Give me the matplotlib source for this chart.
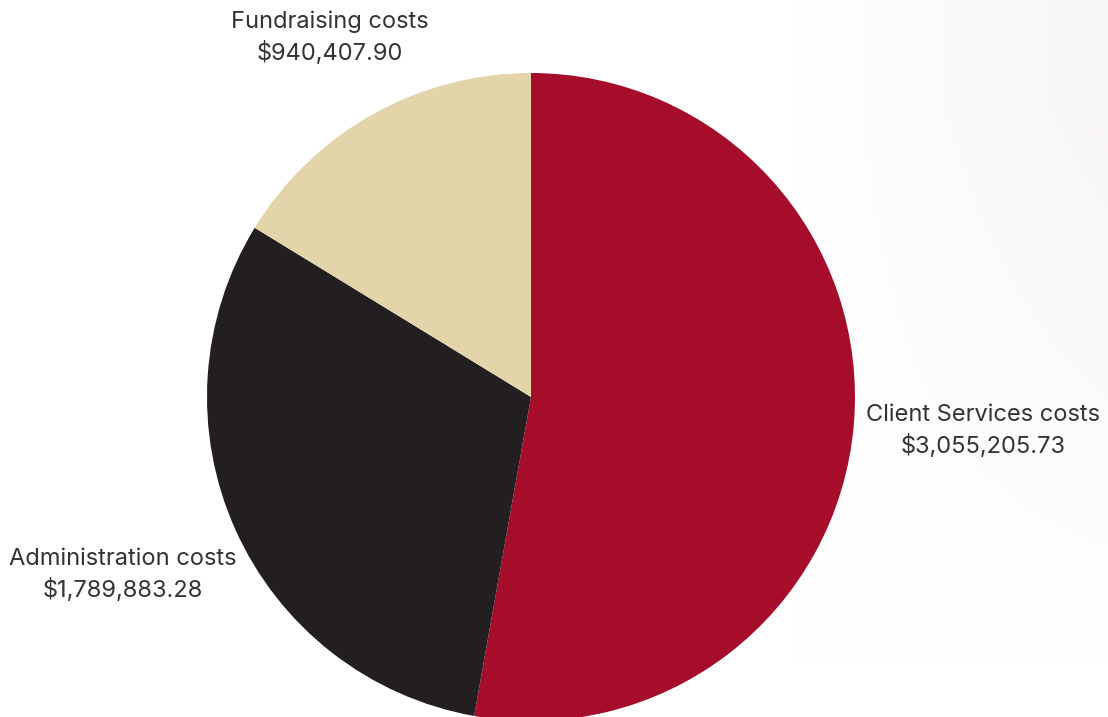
import numpy as np
import matplotlib.pyplot as plt

# data
labels = ["Client Services costs", "Administration costs", "Fundraising costs"]
values = [3055205.73, 1789883.28, 940407.90]
colors = ["#A50D2B", "#231F20", "#E3D4A9"]

W, H = 1108, 717
fig = plt.figure(figsize=(W / 100, H / 100), dpi=100)

# faint background shading on the right side
bg = fig.add_axes([0, 0, 1, 1], zorder=0)
xs = np.linspace(0, 1, 400)
ys = np.linspace(0, 1, 300)
X, Y = np.meshgrid(xs, ys)
shade = np.clip((X - 0.72) / 0.28, 0, 1) * np.clip(Y * 1.3 - 0.1, 0, 1)
img = np.ones((300, 400, 3))
tint = np.array([0.975, 0.962, 0.962])
img = img * (1 - shade[..., None]) + tint * shade[..., None]
bg.imshow(img, extent=[0, 1, 0, 1], origin="lower", aspect="auto")
bg.axis("off")

# pie axes, centre (531, 397) px, radius 324 px
cx, cy, r = 531, 397, 324
ax = fig.add_axes([(cx - r) / W, (H - cy - r) / H, 2 * r / W, 2 * r / H], zorder=1)
ax.pie(values, colors=colors, startangle=90, counterclock=False, radius=1,
       wedgeprops=dict(linewidth=0))
ax.set_xlim(-1, 1)
ax.set_ylim(-1, 1)
ax.set_aspect("equal")
ax.axis("off")

plt.rcParams['font.family'] = ['Inter', 'DejaVu Sans']
label_pos = {
    "Client Services costs": (983, 431),
    "Administration costs": (123, 575),
    "Fundraising costs": (330, 38),
}
for lab, val in zip(labels, values):
    px, py = label_pos[lab]
    fig.text(px / W, 1 - py / H, f"{lab}\n${val:,.2f}", ha="center", va="center",
             fontsize=17, color="#333333", linespacing=1.4, zorder=2)

fig.savefig("out.png", dpi=100)
